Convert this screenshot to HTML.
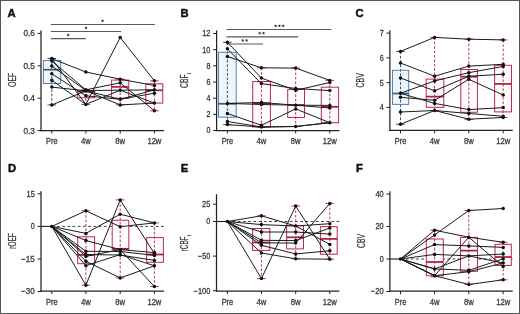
<!DOCTYPE html>
<html><head><meta charset="utf-8"><title>Figure</title>
<style>
html,body{margin:0;padding:0;background:#fff;}
svg{display:block;font-family:"Liberation Sans",sans-serif;will-change:transform;}
.wrap{width:520px;height:314px;overflow:hidden;}
</style></head>
<body>
<div class="wrap"><svg width="520" height="314" viewBox="0 0 520 314">
<rect x="0" y="0" width="520" height="314" fill="#fff"/>
<text x="7.6" y="16.6" font-size="11.3" font-weight="bold" fill="#111" stroke="#111" stroke-width="0.45">A</text>
<text transform="translate(15.6,87.0) rotate(-90)" font-size="10.2" text-anchor="start" fill="#3a3a3a" stroke="#3a3a3a" stroke-width="0.25" textLength="14.4" lengthAdjust="spacingAndGlyphs">OEF</text>
<line x1="41" y1="30.6" x2="41" y2="131.2" stroke="#222" stroke-width="1.25" stroke-linecap="butt"/>
<line x1="40.4" y1="130.6" x2="163.9" y2="130.6" stroke="#222" stroke-width="1.25" stroke-linecap="butt"/>
<line x1="37.5" y1="33.4" x2="41" y2="33.4" stroke="#222" stroke-width="1" stroke-linecap="butt"/>
<text x="34.8" y="36.3" font-size="8.2" text-anchor="end" fill="#3a3a3a" font-weight="normal" stroke="#3a3a3a" stroke-width="0.28" textLength="11.4" lengthAdjust="spacingAndGlyphs">0.6</text>
<line x1="37.5" y1="65.8" x2="41" y2="65.8" stroke="#222" stroke-width="1" stroke-linecap="butt"/>
<text x="34.8" y="68.7" font-size="8.2" text-anchor="end" fill="#3a3a3a" font-weight="normal" stroke="#3a3a3a" stroke-width="0.28" textLength="11.4" lengthAdjust="spacingAndGlyphs">0.5</text>
<line x1="37.5" y1="98.2" x2="41" y2="98.2" stroke="#222" stroke-width="1" stroke-linecap="butt"/>
<text x="34.8" y="101.10000000000001" font-size="8.2" text-anchor="end" fill="#3a3a3a" font-weight="normal" stroke="#3a3a3a" stroke-width="0.28" textLength="11.4" lengthAdjust="spacingAndGlyphs">0.4</text>
<line x1="37.5" y1="130.6" x2="41" y2="130.6" stroke="#222" stroke-width="1" stroke-linecap="butt"/>
<text x="34.8" y="133.5" font-size="8.2" text-anchor="end" fill="#3a3a3a" font-weight="normal" stroke="#3a3a3a" stroke-width="0.28" textLength="11.4" lengthAdjust="spacingAndGlyphs">0.3</text>
<line x1="51.8" y1="130.6" x2="51.8" y2="133.6" stroke="#222" stroke-width="1" stroke-linecap="butt"/>
<text x="51.8" y="144.1" font-size="8.2" text-anchor="middle" fill="#3a3a3a" font-weight="normal" stroke="#3a3a3a" stroke-width="0.28" textLength="11.5" lengthAdjust="spacingAndGlyphs">Pre</text>
<line x1="85.9" y1="130.6" x2="85.9" y2="133.6" stroke="#222" stroke-width="1" stroke-linecap="butt"/>
<text x="85.9" y="144.1" font-size="8.2" text-anchor="middle" fill="#3a3a3a" font-weight="normal" stroke="#3a3a3a" stroke-width="0.28" textLength="9.8" lengthAdjust="spacingAndGlyphs">4w</text>
<line x1="120.2" y1="130.6" x2="120.2" y2="133.6" stroke="#222" stroke-width="1" stroke-linecap="butt"/>
<text x="120.2" y="144.1" font-size="8.2" text-anchor="middle" fill="#3a3a3a" font-weight="normal" stroke="#3a3a3a" stroke-width="0.28" textLength="9.8" lengthAdjust="spacingAndGlyphs">8w</text>
<line x1="154.4" y1="130.6" x2="154.4" y2="133.6" stroke="#222" stroke-width="1" stroke-linecap="butt"/>
<text x="154.4" y="144.1" font-size="8.2" text-anchor="middle" fill="#3a3a3a" font-weight="normal" stroke="#3a3a3a" stroke-width="0.28" textLength="14.0" lengthAdjust="spacingAndGlyphs">12w</text>
<line x1="50.8" y1="24.5" x2="154.9" y2="24.5" stroke="#5a5a5a" stroke-width="1.2" stroke-linecap="butt"/>
<polygon points="102.60,19.20 103.10,20.21 104.22,20.37 103.41,21.16 103.60,22.28 102.60,21.75 101.60,22.28 101.79,21.16 100.98,20.37 102.10,20.21" fill="#333"/>
<line x1="50.8" y1="31.5" x2="121.0" y2="31.5" stroke="#5a5a5a" stroke-width="1.2" stroke-linecap="butt"/>
<polygon points="86.00,26.20 86.50,27.21 87.62,27.37 86.81,28.16 87.00,29.28 86.00,28.75 85.00,29.28 85.19,28.16 84.38,27.37 85.50,27.21" fill="#333"/>
<line x1="50.8" y1="38.6" x2="85.7" y2="38.6" stroke="#5a5a5a" stroke-width="1.2" stroke-linecap="butt"/>
<polygon points="68.20,33.30 68.70,34.31 69.82,34.47 69.01,35.26 69.20,36.38 68.20,35.85 67.20,36.38 67.39,35.26 66.58,34.47 67.70,34.31" fill="#333"/>
<rect x="43.4" y="60.5" width="17.300000000000004" height="23.0" fill="#eef5fb"/>
<line x1="51.8" y1="58.5" x2="51.8" y2="104.9" stroke="#3b5169" stroke-width="1" stroke-dasharray="2.6 1.8" stroke-linecap="butt"/>
<line x1="47.5" y1="58.5" x2="56.099999999999994" y2="58.5" stroke="#3b5169" stroke-width="1" stroke-linecap="butt"/>
<line x1="47.5" y1="104.9" x2="56.099999999999994" y2="104.9" stroke="#3b5169" stroke-width="1" stroke-linecap="butt"/>
<rect x="43.4" y="60.5" width="17.300000000000004" height="23.0" fill="none" stroke="#5283b0" stroke-width="1"/>
<line x1="43.4" y1="69.7" x2="60.7" y2="69.7" stroke="#2f5f8c" stroke-width="1.7" stroke-linecap="butt"/>
<rect x="77.7" y="90.9" width="17.0" height="6.8999999999999915" fill="#fffafb"/>
<line x1="85.9" y1="89.8" x2="85.9" y2="104.5" stroke="#b83a56" stroke-width="1" stroke-dasharray="2.6 1.8" stroke-linecap="butt"/>
<line x1="81.60000000000001" y1="89.8" x2="90.2" y2="89.8" stroke="#b83a56" stroke-width="1" stroke-linecap="butt"/>
<line x1="81.60000000000001" y1="104.5" x2="90.2" y2="104.5" stroke="#b83a56" stroke-width="1" stroke-linecap="butt"/>
<rect x="77.7" y="90.9" width="17.0" height="6.8999999999999915" fill="none" stroke="#b82c4c" stroke-width="1"/>
<line x1="77.7" y1="91.6" x2="94.7" y2="91.6" stroke="#a81d3d" stroke-width="1.7" stroke-linecap="butt"/>
<rect x="111.6" y="80.1" width="17.200000000000017" height="18.10000000000001" fill="#fffafb"/>
<line x1="120.2" y1="79.2" x2="120.2" y2="104.9" stroke="#b83a56" stroke-width="1" stroke-dasharray="2.6 1.8" stroke-linecap="butt"/>
<line x1="115.9" y1="79.2" x2="124.5" y2="79.2" stroke="#b83a56" stroke-width="1" stroke-linecap="butt"/>
<line x1="115.9" y1="104.9" x2="124.5" y2="104.9" stroke="#b83a56" stroke-width="1" stroke-linecap="butt"/>
<rect x="111.6" y="80.1" width="17.200000000000017" height="18.10000000000001" fill="none" stroke="#b82c4c" stroke-width="1"/>
<line x1="111.6" y1="86.9" x2="128.8" y2="86.9" stroke="#a81d3d" stroke-width="1.7" stroke-linecap="butt"/>
<rect x="145.8" y="83.8" width="17.0" height="19.299999999999997" fill="#fffafb"/>
<line x1="154.4" y1="80.8" x2="154.4" y2="110.8" stroke="#b83a56" stroke-width="1" stroke-dasharray="2.6 1.8" stroke-linecap="butt"/>
<line x1="150.1" y1="80.8" x2="158.70000000000002" y2="80.8" stroke="#b83a56" stroke-width="1" stroke-linecap="butt"/>
<line x1="150.1" y1="110.8" x2="158.70000000000002" y2="110.8" stroke="#b83a56" stroke-width="1" stroke-linecap="butt"/>
<rect x="145.8" y="83.8" width="17.0" height="19.299999999999997" fill="none" stroke="#b82c4c" stroke-width="1"/>
<line x1="145.8" y1="90.3" x2="162.8" y2="90.3" stroke="#a81d3d" stroke-width="1.7" stroke-linecap="butt"/>
<polyline points="51.8,58.6 85.9,72.0 120.2,79.2 154.4,85.5" fill="none" stroke="#1c1c1c" stroke-width="1.0" stroke-linejoin="round"/>
<polyline points="51.8,58.9 85.9,104.4 120.2,37.5 154.4,80.8" fill="none" stroke="#1c1c1c" stroke-width="1.0" stroke-linejoin="round"/>
<polyline points="51.8,61.1 85.9,89.8 120.2,82.8 154.4,110.8" fill="none" stroke="#1c1c1c" stroke-width="1.0" stroke-linejoin="round"/>
<polyline points="51.8,66.0 85.9,90.5 120.2,90.2 154.4,89.8" fill="none" stroke="#1c1c1c" stroke-width="1.0" stroke-linejoin="round"/>
<polyline points="51.8,73.8 85.9,95.8 120.2,99.3 154.4,93.2" fill="none" stroke="#1c1c1c" stroke-width="1.0" stroke-linejoin="round"/>
<polyline points="51.8,80.3 85.9,104.4 120.2,90.2 154.4,103.1" fill="none" stroke="#1c1c1c" stroke-width="1.0" stroke-linejoin="round"/>
<polyline points="51.8,87.1 85.9,90.8 120.2,104.9 154.4,103.1" fill="none" stroke="#1c1c1c" stroke-width="1.0" stroke-linejoin="round"/>
<polyline points="51.8,105.0 85.9,90.8 120.2,99.3 154.4,89.8" fill="none" stroke="#1c1c1c" stroke-width="1.0" stroke-linejoin="round"/>
<circle cx="51.8" cy="58.6" r="1.75" fill="#111"/>
<circle cx="85.9" cy="72.0" r="1.75" fill="#111"/>
<circle cx="120.2" cy="79.2" r="1.75" fill="#111"/>
<circle cx="154.4" cy="85.5" r="1.75" fill="#111"/>
<circle cx="51.8" cy="58.9" r="1.75" fill="#111"/>
<circle cx="85.9" cy="104.4" r="1.75" fill="#111"/>
<circle cx="120.2" cy="37.5" r="1.75" fill="#111"/>
<circle cx="154.4" cy="80.8" r="1.75" fill="#111"/>
<circle cx="51.8" cy="61.1" r="1.75" fill="#111"/>
<circle cx="85.9" cy="89.8" r="1.75" fill="#111"/>
<circle cx="120.2" cy="82.8" r="1.75" fill="#111"/>
<circle cx="154.4" cy="110.8" r="1.75" fill="#111"/>
<circle cx="51.8" cy="66.0" r="1.75" fill="#111"/>
<circle cx="85.9" cy="90.5" r="1.75" fill="#111"/>
<circle cx="120.2" cy="90.2" r="1.75" fill="#111"/>
<circle cx="154.4" cy="89.8" r="1.75" fill="#111"/>
<circle cx="51.8" cy="73.8" r="1.75" fill="#111"/>
<circle cx="85.9" cy="95.8" r="1.75" fill="#111"/>
<circle cx="120.2" cy="99.3" r="1.75" fill="#111"/>
<circle cx="154.4" cy="93.2" r="1.75" fill="#111"/>
<circle cx="51.8" cy="80.3" r="1.75" fill="#111"/>
<circle cx="154.4" cy="103.1" r="1.75" fill="#111"/>
<circle cx="51.8" cy="87.1" r="1.75" fill="#111"/>
<circle cx="85.9" cy="90.8" r="1.75" fill="#111"/>
<circle cx="120.2" cy="104.9" r="1.75" fill="#111"/>
<circle cx="51.8" cy="105.0" r="1.75" fill="#111"/>
<text x="180.6" y="16.6" font-size="11.3" font-weight="bold" fill="#111" stroke="#111" stroke-width="0.45">B</text>
<text transform="translate(188.2,87.9) rotate(-90)" font-size="10.2" text-anchor="start" fill="#3a3a3a" stroke="#3a3a3a" stroke-width="0.25" textLength="13.4" lengthAdjust="spacingAndGlyphs">CBF</text>
<text transform="translate(191.2,74.1) rotate(-90)" font-size="5" text-anchor="start" fill="#3a3a3a" stroke="#3a3a3a" stroke-width="0.2">i</text>
<line x1="216.6" y1="30.4" x2="216.6" y2="131.1" stroke="#222" stroke-width="1.25" stroke-linecap="butt"/>
<line x1="216.0" y1="130.5" x2="339.3" y2="130.5" stroke="#222" stroke-width="1.25" stroke-linecap="butt"/>
<line x1="213.1" y1="33.5" x2="216.6" y2="33.5" stroke="#222" stroke-width="1" stroke-linecap="butt"/>
<text x="210.4" y="36.4" font-size="8.2" text-anchor="end" fill="#3a3a3a" font-weight="normal" stroke="#3a3a3a" stroke-width="0.28" textLength="8.2" lengthAdjust="spacingAndGlyphs">12</text>
<line x1="213.1" y1="49.67" x2="216.6" y2="49.67" stroke="#222" stroke-width="1" stroke-linecap="butt"/>
<text x="210.4" y="52.57" font-size="8.2" text-anchor="end" fill="#3a3a3a" font-weight="normal" stroke="#3a3a3a" stroke-width="0.28" textLength="8.2" lengthAdjust="spacingAndGlyphs">10</text>
<line x1="213.1" y1="65.84" x2="216.6" y2="65.84" stroke="#222" stroke-width="1" stroke-linecap="butt"/>
<text x="210.4" y="68.74000000000001" font-size="8.2" text-anchor="end" fill="#3a3a3a" font-weight="normal" stroke="#3a3a3a" stroke-width="0.28" textLength="4" lengthAdjust="spacingAndGlyphs">8</text>
<line x1="213.1" y1="82.0" x2="216.6" y2="82.0" stroke="#222" stroke-width="1" stroke-linecap="butt"/>
<text x="210.4" y="84.9" font-size="8.2" text-anchor="end" fill="#3a3a3a" font-weight="normal" stroke="#3a3a3a" stroke-width="0.28" textLength="4" lengthAdjust="spacingAndGlyphs">6</text>
<line x1="213.1" y1="98.17" x2="216.6" y2="98.17" stroke="#222" stroke-width="1" stroke-linecap="butt"/>
<text x="210.4" y="101.07000000000001" font-size="8.2" text-anchor="end" fill="#3a3a3a" font-weight="normal" stroke="#3a3a3a" stroke-width="0.28" textLength="4" lengthAdjust="spacingAndGlyphs">4</text>
<line x1="213.1" y1="114.33" x2="216.6" y2="114.33" stroke="#222" stroke-width="1" stroke-linecap="butt"/>
<text x="210.4" y="117.23" font-size="8.2" text-anchor="end" fill="#3a3a3a" font-weight="normal" stroke="#3a3a3a" stroke-width="0.28" textLength="4" lengthAdjust="spacingAndGlyphs">2</text>
<line x1="213.1" y1="130.5" x2="216.6" y2="130.5" stroke="#222" stroke-width="1" stroke-linecap="butt"/>
<text x="210.4" y="133.4" font-size="8.2" text-anchor="end" fill="#3a3a3a" font-weight="normal" stroke="#3a3a3a" stroke-width="0.28" textLength="4" lengthAdjust="spacingAndGlyphs">0</text>
<line x1="227.4" y1="130.5" x2="227.4" y2="133.5" stroke="#222" stroke-width="1" stroke-linecap="butt"/>
<text x="227.4" y="144.0" font-size="8.2" text-anchor="middle" fill="#3a3a3a" font-weight="normal" stroke="#3a3a3a" stroke-width="0.28" textLength="11.5" lengthAdjust="spacingAndGlyphs">Pre</text>
<line x1="261.4" y1="130.5" x2="261.4" y2="133.5" stroke="#222" stroke-width="1" stroke-linecap="butt"/>
<text x="261.4" y="144.0" font-size="8.2" text-anchor="middle" fill="#3a3a3a" font-weight="normal" stroke="#3a3a3a" stroke-width="0.28" textLength="9.8" lengthAdjust="spacingAndGlyphs">4w</text>
<line x1="295.7" y1="130.5" x2="295.7" y2="133.5" stroke="#222" stroke-width="1" stroke-linecap="butt"/>
<text x="295.7" y="144.0" font-size="8.2" text-anchor="middle" fill="#3a3a3a" font-weight="normal" stroke="#3a3a3a" stroke-width="0.28" textLength="9.8" lengthAdjust="spacingAndGlyphs">8w</text>
<line x1="329.8" y1="130.5" x2="329.8" y2="133.5" stroke="#222" stroke-width="1" stroke-linecap="butt"/>
<text x="329.8" y="144.0" font-size="8.2" text-anchor="middle" fill="#3a3a3a" font-weight="normal" stroke="#3a3a3a" stroke-width="0.28" textLength="14.0" lengthAdjust="spacingAndGlyphs">12w</text>
<line x1="226.4" y1="29.5" x2="331.3" y2="29.5" stroke="#5a5a5a" stroke-width="1.2" stroke-linecap="butt"/>
<polygon points="275.60,24.20 276.10,25.21 277.22,25.37 276.41,26.16 276.60,27.28 275.60,26.75 274.60,27.28 274.79,26.16 273.98,25.37 275.10,25.21" fill="#333"/>
<polygon points="279.40,24.20 279.90,25.21 281.02,25.37 280.21,26.16 280.40,27.28 279.40,26.75 278.40,27.28 278.59,26.16 277.78,25.37 278.90,25.21" fill="#333"/>
<polygon points="283.20,24.20 283.70,25.21 284.82,25.37 284.01,26.16 284.20,27.28 283.20,26.75 282.20,27.28 282.39,26.16 281.58,25.37 282.70,25.21" fill="#333"/>
<line x1="226.4" y1="36.8" x2="298.3" y2="36.8" stroke="#5a5a5a" stroke-width="1.2" stroke-linecap="butt"/>
<polygon points="259.70,31.50 260.20,32.51 261.32,32.67 260.51,33.46 260.70,34.58 259.70,34.05 258.70,34.58 258.89,33.46 258.08,32.67 259.20,32.51" fill="#333"/>
<polygon points="263.50,31.50 264.00,32.51 265.12,32.67 264.31,33.46 264.50,34.58 263.50,34.05 262.50,34.58 262.69,33.46 261.88,32.67 263.00,32.51" fill="#333"/>
<line x1="226.4" y1="44.0" x2="263.1" y2="44.0" stroke="#5a5a5a" stroke-width="1.2" stroke-linecap="butt"/>
<polygon points="242.80,38.70 243.30,39.71 244.42,39.87 243.61,40.66 243.80,41.78 242.80,41.25 241.80,41.78 241.99,40.66 241.18,39.87 242.30,39.71" fill="#333"/>
<polygon points="246.60,38.70 247.10,39.71 248.22,39.87 247.41,40.66 247.60,41.78 246.60,41.25 245.60,41.78 245.79,40.66 244.98,39.87 246.10,39.71" fill="#333"/>
<rect x="218.5" y="52.3" width="17.69999999999999" height="64.9" fill="#eef5fb"/>
<line x1="227.4" y1="42.3" x2="227.4" y2="124.6" stroke="#3b5169" stroke-width="1" stroke-dasharray="2.6 1.8" stroke-linecap="butt"/>
<line x1="223.1" y1="42.3" x2="231.70000000000002" y2="42.3" stroke="#3b5169" stroke-width="1" stroke-linecap="butt"/>
<line x1="223.1" y1="124.6" x2="231.70000000000002" y2="124.6" stroke="#3b5169" stroke-width="1" stroke-linecap="butt"/>
<rect x="218.5" y="52.3" width="17.69999999999999" height="64.9" fill="none" stroke="#5283b0" stroke-width="1"/>
<line x1="218.5" y1="103.8" x2="236.2" y2="103.8" stroke="#2f5f8c" stroke-width="1.7" stroke-linecap="butt"/>
<rect x="252.7" y="81.5" width="17.69999999999999" height="45.5" fill="#fffafb"/>
<line x1="261.4" y1="67.8" x2="261.4" y2="127.4" stroke="#b83a56" stroke-width="1" stroke-dasharray="2.6 1.8" stroke-linecap="butt"/>
<line x1="257.09999999999997" y1="67.8" x2="265.7" y2="67.8" stroke="#b83a56" stroke-width="1" stroke-linecap="butt"/>
<line x1="257.09999999999997" y1="127.4" x2="265.7" y2="127.4" stroke="#b83a56" stroke-width="1" stroke-linecap="butt"/>
<rect x="252.7" y="81.5" width="17.69999999999999" height="45.5" fill="none" stroke="#b82c4c" stroke-width="1"/>
<line x1="252.7" y1="103.3" x2="270.4" y2="103.3" stroke="#a81d3d" stroke-width="1.7" stroke-linecap="butt"/>
<rect x="287.7" y="89.4" width="16.80000000000001" height="28.099999999999994" fill="#fffafb"/>
<line x1="295.7" y1="68.1" x2="295.7" y2="126.5" stroke="#b83a56" stroke-width="1" stroke-dasharray="2.6 1.8" stroke-linecap="butt"/>
<line x1="291.4" y1="68.1" x2="300.0" y2="68.1" stroke="#b83a56" stroke-width="1" stroke-linecap="butt"/>
<line x1="291.4" y1="126.5" x2="300.0" y2="126.5" stroke="#b83a56" stroke-width="1" stroke-linecap="butt"/>
<rect x="287.7" y="89.4" width="16.80000000000001" height="28.099999999999994" fill="none" stroke="#b82c4c" stroke-width="1"/>
<line x1="287.7" y1="105.0" x2="304.5" y2="105.0" stroke="#a81d3d" stroke-width="1.7" stroke-linecap="butt"/>
<rect x="321.3" y="87.2" width="17.30000000000001" height="35.5" fill="#fffafb"/>
<line x1="329.8" y1="80.4" x2="329.8" y2="122.7" stroke="#b83a56" stroke-width="1" stroke-dasharray="2.6 1.8" stroke-linecap="butt"/>
<line x1="325.5" y1="80.4" x2="334.1" y2="80.4" stroke="#b83a56" stroke-width="1" stroke-linecap="butt"/>
<rect x="321.3" y="87.2" width="17.30000000000001" height="35.5" fill="none" stroke="#b82c4c" stroke-width="1"/>
<line x1="321.3" y1="106.8" x2="338.6" y2="106.8" stroke="#a81d3d" stroke-width="1.7" stroke-linecap="butt"/>
<polyline points="227.4,42.3 261.4,78.1 295.7,90.3 329.8,82.5" fill="none" stroke="#1c1c1c" stroke-width="1.0" stroke-linejoin="round"/>
<polyline points="227.4,48.8 261.4,83.6 295.7,88.5 329.8,90.6" fill="none" stroke="#1c1c1c" stroke-width="1.0" stroke-linejoin="round"/>
<polyline points="227.4,56.5 261.4,67.8 295.7,68.1 329.8,80.4" fill="none" stroke="#1c1c1c" stroke-width="1.0" stroke-linejoin="round"/>
<polyline points="227.4,103.4 261.4,102.5 295.7,105.2 329.8,105.4" fill="none" stroke="#1c1c1c" stroke-width="1.0" stroke-linejoin="round"/>
<polyline points="227.4,103.4 261.4,104.5 295.7,105.2 329.8,108.0" fill="none" stroke="#1c1c1c" stroke-width="1.0" stroke-linejoin="round"/>
<polyline points="227.4,113.5 261.4,125.3 295.7,108.9 329.8,122.7" fill="none" stroke="#1c1c1c" stroke-width="1.0" stroke-linejoin="round"/>
<polyline points="227.4,121.5 261.4,127.0 295.7,126.5 329.8,122.7" fill="none" stroke="#1c1c1c" stroke-width="1.0" stroke-linejoin="round"/>
<polyline points="227.4,124.6 261.4,127.0 295.7,126.5 329.8,122.7" fill="none" stroke="#1c1c1c" stroke-width="1.0" stroke-linejoin="round"/>
<circle cx="227.4" cy="42.3" r="1.75" fill="#111"/>
<circle cx="261.4" cy="78.1" r="1.75" fill="#111"/>
<circle cx="295.7" cy="90.3" r="1.75" fill="#111"/>
<circle cx="329.8" cy="82.5" r="1.75" fill="#111"/>
<circle cx="227.4" cy="48.8" r="1.75" fill="#111"/>
<circle cx="261.4" cy="83.6" r="1.75" fill="#111"/>
<circle cx="295.7" cy="88.5" r="1.75" fill="#111"/>
<circle cx="329.8" cy="90.6" r="1.75" fill="#111"/>
<circle cx="227.4" cy="56.5" r="1.75" fill="#111"/>
<circle cx="261.4" cy="67.8" r="1.75" fill="#111"/>
<circle cx="295.7" cy="68.1" r="1.75" fill="#111"/>
<circle cx="329.8" cy="80.4" r="1.75" fill="#111"/>
<circle cx="227.4" cy="103.4" r="1.75" fill="#111"/>
<circle cx="261.4" cy="102.5" r="1.75" fill="#111"/>
<circle cx="295.7" cy="105.2" r="1.75" fill="#111"/>
<circle cx="329.8" cy="105.4" r="1.75" fill="#111"/>
<circle cx="261.4" cy="104.5" r="1.75" fill="#111"/>
<circle cx="329.8" cy="108.0" r="1.75" fill="#111"/>
<circle cx="227.4" cy="113.5" r="1.75" fill="#111"/>
<circle cx="261.4" cy="125.3" r="1.75" fill="#111"/>
<circle cx="295.7" cy="108.9" r="1.75" fill="#111"/>
<circle cx="329.8" cy="122.7" r="1.75" fill="#111"/>
<circle cx="227.4" cy="121.5" r="1.75" fill="#111"/>
<circle cx="261.4" cy="127.0" r="1.75" fill="#111"/>
<circle cx="295.7" cy="126.5" r="1.75" fill="#111"/>
<circle cx="227.4" cy="124.6" r="1.75" fill="#111"/>
<text x="355.4" y="16.6" font-size="11.3" font-weight="bold" fill="#111" stroke="#111" stroke-width="0.45">C</text>
<text transform="translate(364.4,87.6) rotate(-90)" font-size="10.2" text-anchor="start" fill="#3a3a3a" stroke="#3a3a3a" stroke-width="0.25" textLength="14.4" lengthAdjust="spacingAndGlyphs">CBV</text>
<line x1="389.9" y1="30.3" x2="389.9" y2="131.0" stroke="#222" stroke-width="1.25" stroke-linecap="butt"/>
<line x1="389.29999999999995" y1="130.4" x2="512.7" y2="130.4" stroke="#222" stroke-width="1.25" stroke-linecap="butt"/>
<line x1="386.4" y1="33.1" x2="389.9" y2="33.1" stroke="#222" stroke-width="1" stroke-linecap="butt"/>
<text x="383.7" y="36.0" font-size="8.2" text-anchor="end" fill="#3a3a3a" font-weight="normal" stroke="#3a3a3a" stroke-width="0.28" textLength="4" lengthAdjust="spacingAndGlyphs">7</text>
<line x1="386.4" y1="57.87" x2="389.9" y2="57.87" stroke="#222" stroke-width="1" stroke-linecap="butt"/>
<text x="383.7" y="60.769999999999996" font-size="8.2" text-anchor="end" fill="#3a3a3a" font-weight="normal" stroke="#3a3a3a" stroke-width="0.28" textLength="4" lengthAdjust="spacingAndGlyphs">6</text>
<line x1="386.4" y1="82.64" x2="389.9" y2="82.64" stroke="#222" stroke-width="1" stroke-linecap="butt"/>
<text x="383.7" y="85.54" font-size="8.2" text-anchor="end" fill="#3a3a3a" font-weight="normal" stroke="#3a3a3a" stroke-width="0.28" textLength="4" lengthAdjust="spacingAndGlyphs">5</text>
<line x1="386.4" y1="107.41" x2="389.9" y2="107.41" stroke="#222" stroke-width="1" stroke-linecap="butt"/>
<text x="383.7" y="110.31" font-size="8.2" text-anchor="end" fill="#3a3a3a" font-weight="normal" stroke="#3a3a3a" stroke-width="0.28" textLength="4" lengthAdjust="spacingAndGlyphs">4</text>
<line x1="400.5" y1="130.4" x2="400.5" y2="133.4" stroke="#222" stroke-width="1" stroke-linecap="butt"/>
<text x="400.5" y="143.9" font-size="8.2" text-anchor="middle" fill="#3a3a3a" font-weight="normal" stroke="#3a3a3a" stroke-width="0.28" textLength="11.5" lengthAdjust="spacingAndGlyphs">Pre</text>
<line x1="434.6" y1="130.4" x2="434.6" y2="133.4" stroke="#222" stroke-width="1" stroke-linecap="butt"/>
<text x="434.6" y="143.9" font-size="8.2" text-anchor="middle" fill="#3a3a3a" font-weight="normal" stroke="#3a3a3a" stroke-width="0.28" textLength="9.8" lengthAdjust="spacingAndGlyphs">4w</text>
<line x1="468.8" y1="130.4" x2="468.8" y2="133.4" stroke="#222" stroke-width="1" stroke-linecap="butt"/>
<text x="468.8" y="143.9" font-size="8.2" text-anchor="middle" fill="#3a3a3a" font-weight="normal" stroke="#3a3a3a" stroke-width="0.28" textLength="9.8" lengthAdjust="spacingAndGlyphs">8w</text>
<line x1="503.2" y1="130.4" x2="503.2" y2="133.4" stroke="#222" stroke-width="1" stroke-linecap="butt"/>
<text x="503.2" y="143.9" font-size="8.2" text-anchor="middle" fill="#3a3a3a" font-weight="normal" stroke="#3a3a3a" stroke-width="0.28" textLength="14.0" lengthAdjust="spacingAndGlyphs">12w</text>
<rect x="392.5" y="70.3" width="16.19999999999999" height="34.10000000000001" fill="#eef5fb"/>
<line x1="400.5" y1="51.4" x2="400.5" y2="124.3" stroke="#3b5169" stroke-width="1" stroke-dasharray="2.6 1.8" stroke-linecap="butt"/>
<line x1="396.2" y1="51.4" x2="404.8" y2="51.4" stroke="#3b5169" stroke-width="1" stroke-linecap="butt"/>
<line x1="396.2" y1="124.3" x2="404.8" y2="124.3" stroke="#3b5169" stroke-width="1" stroke-linecap="butt"/>
<rect x="392.5" y="70.3" width="16.19999999999999" height="34.10000000000001" fill="none" stroke="#5283b0" stroke-width="1"/>
<line x1="392.5" y1="93.5" x2="408.7" y2="93.5" stroke="#2f5f8c" stroke-width="1.7" stroke-linecap="butt"/>
<rect x="426.2" y="79.1" width="17.600000000000023" height="28.200000000000003" fill="#fffafb"/>
<line x1="434.6" y1="37.4" x2="434.6" y2="110.7" stroke="#b83a56" stroke-width="1" stroke-dasharray="2.6 1.8" stroke-linecap="butt"/>
<line x1="430.3" y1="37.4" x2="438.90000000000003" y2="37.4" stroke="#b83a56" stroke-width="1" stroke-linecap="butt"/>
<line x1="430.3" y1="110.7" x2="438.90000000000003" y2="110.7" stroke="#b83a56" stroke-width="1" stroke-linecap="butt"/>
<rect x="426.2" y="79.1" width="17.600000000000023" height="28.200000000000003" fill="none" stroke="#b82c4c" stroke-width="1"/>
<line x1="426.2" y1="96.6" x2="443.8" y2="96.6" stroke="#a81d3d" stroke-width="1.7" stroke-linecap="butt"/>
<rect x="460.8" y="69.5" width="16.599999999999966" height="42.8" fill="#fffafb"/>
<line x1="468.8" y1="39.2" x2="468.8" y2="119.4" stroke="#b83a56" stroke-width="1" stroke-dasharray="2.6 1.8" stroke-linecap="butt"/>
<line x1="464.5" y1="39.2" x2="473.1" y2="39.2" stroke="#b83a56" stroke-width="1" stroke-linecap="butt"/>
<line x1="464.5" y1="119.4" x2="473.1" y2="119.4" stroke="#b83a56" stroke-width="1" stroke-linecap="butt"/>
<rect x="460.8" y="69.5" width="16.599999999999966" height="42.8" fill="none" stroke="#b82c4c" stroke-width="1"/>
<line x1="460.8" y1="76.7" x2="477.4" y2="76.7" stroke="#a81d3d" stroke-width="1.7" stroke-linecap="butt"/>
<rect x="494.6" y="65.3" width="16.899999999999977" height="46.60000000000001" fill="#fffafb"/>
<line x1="503.2" y1="39.9" x2="503.2" y2="117.5" stroke="#b83a56" stroke-width="1" stroke-dasharray="2.6 1.8" stroke-linecap="butt"/>
<line x1="498.9" y1="39.9" x2="507.5" y2="39.9" stroke="#b83a56" stroke-width="1" stroke-linecap="butt"/>
<line x1="498.9" y1="117.5" x2="507.5" y2="117.5" stroke="#b83a56" stroke-width="1" stroke-linecap="butt"/>
<rect x="494.6" y="65.3" width="16.899999999999977" height="46.60000000000001" fill="none" stroke="#b82c4c" stroke-width="1"/>
<line x1="494.6" y1="83.9" x2="511.5" y2="83.9" stroke="#a81d3d" stroke-width="1.7" stroke-linecap="butt"/>
<polyline points="400.5,51.4 434.6,37.4 468.8,39.2 503.2,39.9" fill="none" stroke="#1c1c1c" stroke-width="1.0" stroke-linejoin="round"/>
<polyline points="400.5,63.0 434.6,76.2 468.8,66.1 503.2,64.3" fill="none" stroke="#1c1c1c" stroke-width="1.0" stroke-linejoin="round"/>
<polyline points="400.5,78.0 434.6,90.8 468.8,76.3 503.2,74.2" fill="none" stroke="#1c1c1c" stroke-width="1.0" stroke-linejoin="round"/>
<polyline points="400.5,93.3 434.6,80.9 468.8,72.7 503.2,66.4" fill="none" stroke="#1c1c1c" stroke-width="1.0" stroke-linejoin="round"/>
<polyline points="400.5,97.3 434.6,100.3 468.8,79.3 503.2,95.0" fill="none" stroke="#1c1c1c" stroke-width="1.0" stroke-linejoin="round"/>
<polyline points="400.5,93.3 434.6,103.4 468.8,109.6 503.2,107.6" fill="none" stroke="#1c1c1c" stroke-width="1.0" stroke-linejoin="round"/>
<polyline points="400.5,112.0 434.6,110.5 468.8,119.2 503.2,117.5" fill="none" stroke="#1c1c1c" stroke-width="1.0" stroke-linejoin="round"/>
<polyline points="400.5,124.3 434.6,110.5 468.8,113.5 503.2,116.3" fill="none" stroke="#1c1c1c" stroke-width="1.0" stroke-linejoin="round"/>
<circle cx="400.5" cy="51.4" r="1.75" fill="#111"/>
<circle cx="434.6" cy="37.4" r="1.75" fill="#111"/>
<circle cx="468.8" cy="39.2" r="1.75" fill="#111"/>
<circle cx="503.2" cy="39.9" r="1.75" fill="#111"/>
<circle cx="400.5" cy="63.0" r="1.75" fill="#111"/>
<circle cx="434.6" cy="76.2" r="1.75" fill="#111"/>
<circle cx="468.8" cy="66.1" r="1.75" fill="#111"/>
<circle cx="503.2" cy="64.3" r="1.75" fill="#111"/>
<circle cx="400.5" cy="78.0" r="1.75" fill="#111"/>
<circle cx="434.6" cy="90.8" r="1.75" fill="#111"/>
<circle cx="468.8" cy="76.3" r="1.75" fill="#111"/>
<circle cx="503.2" cy="74.2" r="1.75" fill="#111"/>
<circle cx="400.5" cy="93.3" r="1.75" fill="#111"/>
<circle cx="434.6" cy="80.9" r="1.75" fill="#111"/>
<circle cx="468.8" cy="72.7" r="1.75" fill="#111"/>
<circle cx="503.2" cy="66.4" r="1.75" fill="#111"/>
<circle cx="400.5" cy="97.3" r="1.75" fill="#111"/>
<circle cx="434.6" cy="100.3" r="1.75" fill="#111"/>
<circle cx="468.8" cy="79.3" r="1.75" fill="#111"/>
<circle cx="503.2" cy="95.0" r="1.75" fill="#111"/>
<circle cx="434.6" cy="103.4" r="1.75" fill="#111"/>
<circle cx="468.8" cy="109.6" r="1.75" fill="#111"/>
<circle cx="503.2" cy="107.6" r="1.75" fill="#111"/>
<circle cx="400.5" cy="112.0" r="1.75" fill="#111"/>
<circle cx="434.6" cy="110.5" r="1.75" fill="#111"/>
<circle cx="468.8" cy="119.2" r="1.75" fill="#111"/>
<circle cx="503.2" cy="117.5" r="1.75" fill="#111"/>
<circle cx="400.5" cy="124.3" r="1.75" fill="#111"/>
<circle cx="468.8" cy="113.5" r="1.75" fill="#111"/>
<circle cx="503.2" cy="116.3" r="1.75" fill="#111"/>
<text x="7.9" y="171.9" font-size="11.3" font-weight="bold" fill="#111" stroke="#111" stroke-width="0.45">D</text>
<text transform="translate(16.1,248.7) rotate(-90)" font-size="10.2" text-anchor="start" fill="#3a3a3a" stroke="#3a3a3a" stroke-width="0.25" textLength="15.5" lengthAdjust="spacingAndGlyphs">rOEF</text>
<line x1="41" y1="191.3" x2="41" y2="291.6" stroke="#222" stroke-width="1.25" stroke-linecap="butt"/>
<line x1="40.4" y1="291.0" x2="163.9" y2="291.0" stroke="#222" stroke-width="1.25" stroke-linecap="butt"/>
<line x1="37.5" y1="193.81" x2="41" y2="193.81" stroke="#222" stroke-width="1" stroke-linecap="butt"/>
<text x="34.8" y="196.71" font-size="8.2" text-anchor="end" fill="#3a3a3a" font-weight="normal" stroke="#3a3a3a" stroke-width="0.28" textLength="8.2" lengthAdjust="spacingAndGlyphs">15</text>
<line x1="37.5" y1="226.4" x2="41" y2="226.4" stroke="#222" stroke-width="1" stroke-linecap="butt"/>
<text x="34.8" y="229.3" font-size="8.2" text-anchor="end" fill="#3a3a3a" font-weight="normal" stroke="#3a3a3a" stroke-width="0.28" textLength="4" lengthAdjust="spacingAndGlyphs">0</text>
<line x1="37.5" y1="259.0" x2="41" y2="259.0" stroke="#222" stroke-width="1" stroke-linecap="butt"/>
<text x="34.8" y="261.9" font-size="8.2" text-anchor="end" fill="#3a3a3a" font-weight="normal" stroke="#3a3a3a" stroke-width="0.28" textLength="13.6" lengthAdjust="spacingAndGlyphs">−15</text>
<line x1="37.5" y1="291.59" x2="41" y2="291.59" stroke="#222" stroke-width="1" stroke-linecap="butt"/>
<text x="34.8" y="294.48999999999995" font-size="8.2" text-anchor="end" fill="#3a3a3a" font-weight="normal" stroke="#3a3a3a" stroke-width="0.28" textLength="13.6" lengthAdjust="spacingAndGlyphs">−30</text>
<line x1="51.8" y1="291.0" x2="51.8" y2="294.0" stroke="#222" stroke-width="1" stroke-linecap="butt"/>
<text x="51.8" y="304.5" font-size="8.2" text-anchor="middle" fill="#3a3a3a" font-weight="normal" stroke="#3a3a3a" stroke-width="0.28" textLength="11.5" lengthAdjust="spacingAndGlyphs">Pre</text>
<line x1="85.9" y1="291.0" x2="85.9" y2="294.0" stroke="#222" stroke-width="1" stroke-linecap="butt"/>
<text x="85.9" y="304.5" font-size="8.2" text-anchor="middle" fill="#3a3a3a" font-weight="normal" stroke="#3a3a3a" stroke-width="0.28" textLength="9.8" lengthAdjust="spacingAndGlyphs">4w</text>
<line x1="120.2" y1="291.0" x2="120.2" y2="294.0" stroke="#222" stroke-width="1" stroke-linecap="butt"/>
<text x="120.2" y="304.5" font-size="8.2" text-anchor="middle" fill="#3a3a3a" font-weight="normal" stroke="#3a3a3a" stroke-width="0.28" textLength="9.8" lengthAdjust="spacingAndGlyphs">8w</text>
<line x1="154.4" y1="291.0" x2="154.4" y2="294.0" stroke="#222" stroke-width="1" stroke-linecap="butt"/>
<text x="154.4" y="304.5" font-size="8.2" text-anchor="middle" fill="#3a3a3a" font-weight="normal" stroke="#3a3a3a" stroke-width="0.28" textLength="14.0" lengthAdjust="spacingAndGlyphs">12w</text>
<line x1="51.8" y1="226.4" x2="163.9" y2="226.4" stroke="#444" stroke-width="1" stroke-dasharray="2.8 2.4" stroke-linecap="butt"/>
<line x1="41" y1="226.4" x2="51.8" y2="226.4" stroke="#1c1c1c" stroke-width="1.1" stroke-linecap="butt"/>
<rect x="77.7" y="236.8" width="16.89999999999999" height="26.899999999999977" fill="#fffafb"/>
<line x1="85.9" y1="210.8" x2="85.9" y2="285.2" stroke="#b83a56" stroke-width="1" stroke-dasharray="2.6 1.8" stroke-linecap="butt"/>
<line x1="81.60000000000001" y1="210.8" x2="90.2" y2="210.8" stroke="#b83a56" stroke-width="1" stroke-linecap="butt"/>
<line x1="81.60000000000001" y1="285.2" x2="90.2" y2="285.2" stroke="#b83a56" stroke-width="1" stroke-linecap="butt"/>
<rect x="77.7" y="236.8" width="16.89999999999999" height="26.899999999999977" fill="none" stroke="#b82c4c" stroke-width="1"/>
<line x1="77.7" y1="254.9" x2="94.6" y2="254.9" stroke="#a81d3d" stroke-width="1.7" stroke-linecap="butt"/>
<rect x="112.2" y="220.2" width="16.60000000000001" height="29.400000000000006" fill="#fffafb"/>
<line x1="120.2" y1="199.9" x2="120.2" y2="277.9" stroke="#b83a56" stroke-width="1" stroke-dasharray="2.6 1.8" stroke-linecap="butt"/>
<line x1="115.9" y1="199.9" x2="124.5" y2="199.9" stroke="#b83a56" stroke-width="1" stroke-linecap="butt"/>
<line x1="115.9" y1="277.9" x2="124.5" y2="277.9" stroke="#b83a56" stroke-width="1" stroke-linecap="butt"/>
<rect x="112.2" y="220.2" width="16.60000000000001" height="29.400000000000006" fill="none" stroke="#b82c4c" stroke-width="1"/>
<line x1="112.2" y1="248.8" x2="128.8" y2="248.8" stroke="#a81d3d" stroke-width="1.7" stroke-linecap="butt"/>
<rect x="146.6" y="237.6" width="16.80000000000001" height="24.700000000000017" fill="#fffafb"/>
<line x1="154.4" y1="222.9" x2="154.4" y2="286.6" stroke="#b83a56" stroke-width="1" stroke-dasharray="2.6 1.8" stroke-linecap="butt"/>
<line x1="150.1" y1="222.9" x2="158.70000000000002" y2="222.9" stroke="#b83a56" stroke-width="1" stroke-linecap="butt"/>
<line x1="150.1" y1="286.6" x2="158.70000000000002" y2="286.6" stroke="#b83a56" stroke-width="1" stroke-linecap="butt"/>
<rect x="146.6" y="237.6" width="16.80000000000001" height="24.700000000000017" fill="none" stroke="#b82c4c" stroke-width="1"/>
<line x1="146.6" y1="254.5" x2="163.4" y2="254.5" stroke="#a81d3d" stroke-width="1.7" stroke-linecap="butt"/>
<polyline points="51.8,226.4 85.9,210.8 120.2,226.7 154.4,222.9" fill="none" stroke="#1c1c1c" stroke-width="1.0" stroke-linejoin="round"/>
<polyline points="51.8,226.4 85.9,233.4 120.2,214.2 154.4,222.9" fill="none" stroke="#1c1c1c" stroke-width="1.0" stroke-linejoin="round"/>
<polyline points="51.8,226.4 85.9,285.2 120.2,199.9 154.4,253.5" fill="none" stroke="#1c1c1c" stroke-width="1.0" stroke-linejoin="round"/>
<polyline points="51.8,226.4 85.9,240.5 120.2,249.6 154.4,286.6" fill="none" stroke="#1c1c1c" stroke-width="1.0" stroke-linejoin="round"/>
<polyline points="51.8,226.4 85.9,251.3 120.2,251.5 154.4,255.4" fill="none" stroke="#1c1c1c" stroke-width="1.0" stroke-linejoin="round"/>
<polyline points="51.8,226.4 85.9,254.6 120.2,255.0 154.4,260.4" fill="none" stroke="#1c1c1c" stroke-width="1.0" stroke-linejoin="round"/>
<polyline points="51.8,226.4 85.9,256.4 120.2,249.6 154.4,252.6" fill="none" stroke="#1c1c1c" stroke-width="1.0" stroke-linejoin="round"/>
<polyline points="51.8,226.4 85.9,261.3 120.2,277.9 154.4,265.8" fill="none" stroke="#1c1c1c" stroke-width="1.0" stroke-linejoin="round"/>
<polyline points="51.8,226.4 85.9,265.7 120.2,254.6 154.4,265.8" fill="none" stroke="#1c1c1c" stroke-width="1.0" stroke-linejoin="round"/>
<circle cx="51.8" cy="226.4" r="1.75" fill="#111"/>
<circle cx="85.9" cy="210.8" r="1.75" fill="#111"/>
<circle cx="120.2" cy="226.7" r="1.75" fill="#111"/>
<circle cx="154.4" cy="222.9" r="1.75" fill="#111"/>
<circle cx="85.9" cy="233.4" r="1.75" fill="#111"/>
<circle cx="120.2" cy="214.2" r="1.75" fill="#111"/>
<circle cx="85.9" cy="285.2" r="1.75" fill="#111"/>
<circle cx="120.2" cy="199.9" r="1.75" fill="#111"/>
<circle cx="154.4" cy="253.5" r="1.75" fill="#111"/>
<circle cx="85.9" cy="240.5" r="1.75" fill="#111"/>
<circle cx="120.2" cy="249.6" r="1.75" fill="#111"/>
<circle cx="154.4" cy="286.6" r="1.75" fill="#111"/>
<circle cx="85.9" cy="251.3" r="1.75" fill="#111"/>
<circle cx="120.2" cy="251.5" r="1.75" fill="#111"/>
<circle cx="154.4" cy="255.4" r="1.75" fill="#111"/>
<circle cx="85.9" cy="254.6" r="1.75" fill="#111"/>
<circle cx="120.2" cy="255.0" r="1.75" fill="#111"/>
<circle cx="154.4" cy="260.4" r="1.75" fill="#111"/>
<circle cx="85.9" cy="256.4" r="1.75" fill="#111"/>
<circle cx="154.4" cy="252.6" r="1.75" fill="#111"/>
<circle cx="85.9" cy="261.3" r="1.75" fill="#111"/>
<circle cx="120.2" cy="277.9" r="1.75" fill="#111"/>
<circle cx="154.4" cy="265.8" r="1.75" fill="#111"/>
<circle cx="85.9" cy="265.7" r="1.75" fill="#111"/>
<circle cx="120.2" cy="254.6" r="1.75" fill="#111"/>
<text x="180.8" y="171.9" font-size="11.3" font-weight="bold" fill="#111" stroke="#111" stroke-width="0.45">E</text>
<text transform="translate(188.2,251.3) rotate(-90)" font-size="10.2" text-anchor="start" fill="#3a3a3a" stroke="#3a3a3a" stroke-width="0.25" textLength="14.8" lengthAdjust="spacingAndGlyphs">rCBF</text>
<text transform="translate(191.2,236.1) rotate(-90)" font-size="5" text-anchor="start" fill="#3a3a3a" stroke="#3a3a3a" stroke-width="0.2">i</text>
<line x1="216.5" y1="194.2" x2="216.5" y2="291.6" stroke="#222" stroke-width="1.25" stroke-linecap="butt"/>
<line x1="215.9" y1="291.0" x2="339.3" y2="291.0" stroke="#222" stroke-width="1.25" stroke-linecap="butt"/>
<line x1="213.0" y1="204.2" x2="216.5" y2="204.2" stroke="#222" stroke-width="1" stroke-linecap="butt"/>
<text x="210.3" y="207.1" font-size="8.2" text-anchor="end" fill="#3a3a3a" font-weight="normal" stroke="#3a3a3a" stroke-width="0.28" textLength="8.2" lengthAdjust="spacingAndGlyphs">25</text>
<line x1="213.0" y1="221.5" x2="216.5" y2="221.5" stroke="#222" stroke-width="1" stroke-linecap="butt"/>
<text x="210.3" y="224.4" font-size="8.2" text-anchor="end" fill="#3a3a3a" font-weight="normal" stroke="#3a3a3a" stroke-width="0.28" textLength="4" lengthAdjust="spacingAndGlyphs">0</text>
<line x1="213.0" y1="256.1" x2="216.5" y2="256.1" stroke="#222" stroke-width="1" stroke-linecap="butt"/>
<text x="210.3" y="259.0" font-size="8.2" text-anchor="end" fill="#3a3a3a" font-weight="normal" stroke="#3a3a3a" stroke-width="0.28" textLength="12.4" lengthAdjust="spacingAndGlyphs">−50</text>
<line x1="213.0" y1="290.7" x2="216.5" y2="290.7" stroke="#222" stroke-width="1" stroke-linecap="butt"/>
<text x="210.3" y="293.59999999999997" font-size="8.2" text-anchor="end" fill="#3a3a3a" font-weight="normal" stroke="#3a3a3a" stroke-width="0.28" textLength="16.6" lengthAdjust="spacingAndGlyphs">−100</text>
<line x1="227.4" y1="291.0" x2="227.4" y2="294.0" stroke="#222" stroke-width="1" stroke-linecap="butt"/>
<text x="227.4" y="304.5" font-size="8.2" text-anchor="middle" fill="#3a3a3a" font-weight="normal" stroke="#3a3a3a" stroke-width="0.28" textLength="11.5" lengthAdjust="spacingAndGlyphs">Pre</text>
<line x1="261.4" y1="291.0" x2="261.4" y2="294.0" stroke="#222" stroke-width="1" stroke-linecap="butt"/>
<text x="261.4" y="304.5" font-size="8.2" text-anchor="middle" fill="#3a3a3a" font-weight="normal" stroke="#3a3a3a" stroke-width="0.28" textLength="9.8" lengthAdjust="spacingAndGlyphs">4w</text>
<line x1="295.7" y1="291.0" x2="295.7" y2="294.0" stroke="#222" stroke-width="1" stroke-linecap="butt"/>
<text x="295.7" y="304.5" font-size="8.2" text-anchor="middle" fill="#3a3a3a" font-weight="normal" stroke="#3a3a3a" stroke-width="0.28" textLength="9.8" lengthAdjust="spacingAndGlyphs">8w</text>
<line x1="329.8" y1="291.0" x2="329.8" y2="294.0" stroke="#222" stroke-width="1" stroke-linecap="butt"/>
<text x="329.8" y="304.5" font-size="8.2" text-anchor="middle" fill="#3a3a3a" font-weight="normal" stroke="#3a3a3a" stroke-width="0.28" textLength="14.0" lengthAdjust="spacingAndGlyphs">12w</text>
<line x1="227.4" y1="221.5" x2="339.3" y2="221.5" stroke="#444" stroke-width="1" stroke-dasharray="2.8 2.4" stroke-linecap="butt"/>
<line x1="216.5" y1="221.5" x2="227.4" y2="221.5" stroke="#1c1c1c" stroke-width="1.1" stroke-linecap="butt"/>
<rect x="252.6" y="228.5" width="17.200000000000017" height="21.900000000000006" fill="#fffafb"/>
<line x1="261.4" y1="215.8" x2="261.4" y2="278.6" stroke="#b83a56" stroke-width="1" stroke-dasharray="2.6 1.8" stroke-linecap="butt"/>
<line x1="257.09999999999997" y1="215.8" x2="265.7" y2="215.8" stroke="#b83a56" stroke-width="1" stroke-linecap="butt"/>
<line x1="257.09999999999997" y1="278.6" x2="265.7" y2="278.6" stroke="#b83a56" stroke-width="1" stroke-linecap="butt"/>
<rect x="252.6" y="228.5" width="17.200000000000017" height="21.900000000000006" fill="none" stroke="#b82c4c" stroke-width="1"/>
<line x1="252.6" y1="242.5" x2="269.8" y2="242.5" stroke="#a81d3d" stroke-width="1.7" stroke-linecap="butt"/>
<rect x="286.6" y="225.7" width="16.899999999999977" height="23.200000000000017" fill="#fffafb"/>
<line x1="295.7" y1="206.0" x2="295.7" y2="258.8" stroke="#b83a56" stroke-width="1" stroke-dasharray="2.6 1.8" stroke-linecap="butt"/>
<line x1="291.4" y1="206.0" x2="300.0" y2="206.0" stroke="#b83a56" stroke-width="1" stroke-linecap="butt"/>
<line x1="291.4" y1="258.8" x2="300.0" y2="258.8" stroke="#b83a56" stroke-width="1" stroke-linecap="butt"/>
<rect x="286.6" y="225.7" width="16.899999999999977" height="23.200000000000017" fill="none" stroke="#b82c4c" stroke-width="1"/>
<line x1="286.6" y1="237.3" x2="303.5" y2="237.3" stroke="#a81d3d" stroke-width="1.7" stroke-linecap="butt"/>
<rect x="320.4" y="226.6" width="16.80000000000001" height="27.599999999999994" fill="#fffafb"/>
<line x1="329.8" y1="203.4" x2="329.8" y2="259.2" stroke="#b83a56" stroke-width="1" stroke-dasharray="2.6 1.8" stroke-linecap="butt"/>
<line x1="325.5" y1="203.4" x2="334.1" y2="203.4" stroke="#b83a56" stroke-width="1" stroke-linecap="butt"/>
<line x1="325.5" y1="259.2" x2="334.1" y2="259.2" stroke="#b83a56" stroke-width="1" stroke-linecap="butt"/>
<rect x="320.4" y="226.6" width="16.80000000000001" height="27.599999999999994" fill="none" stroke="#b82c4c" stroke-width="1"/>
<line x1="320.4" y1="238.9" x2="337.2" y2="238.9" stroke="#a81d3d" stroke-width="1.7" stroke-linecap="butt"/>
<polyline points="227.4,221.5 261.4,215.8 295.7,226.0 329.8,244.4" fill="none" stroke="#1c1c1c" stroke-width="1.0" stroke-linejoin="round"/>
<polyline points="227.4,221.5 261.4,224.6 295.7,226.0 329.8,223.7" fill="none" stroke="#1c1c1c" stroke-width="1.0" stroke-linejoin="round"/>
<polyline points="227.4,221.5 261.4,278.6 295.7,206.0 329.8,259.2" fill="none" stroke="#1c1c1c" stroke-width="1.0" stroke-linejoin="round"/>
<polyline points="227.4,221.5 261.4,232.0 295.7,232.0 329.8,234.1" fill="none" stroke="#1c1c1c" stroke-width="1.0" stroke-linejoin="round"/>
<polyline points="227.4,221.5 261.4,240.3 295.7,240.6 329.8,228.0" fill="none" stroke="#1c1c1c" stroke-width="1.0" stroke-linejoin="round"/>
<polyline points="227.4,221.5 261.4,242.8 295.7,243.1 329.8,203.4" fill="none" stroke="#1c1c1c" stroke-width="1.0" stroke-linejoin="round"/>
<polyline points="227.4,221.5 261.4,245.3 295.7,253.9 329.8,250.8" fill="none" stroke="#1c1c1c" stroke-width="1.0" stroke-linejoin="round"/>
<polyline points="227.4,221.5 261.4,253.0 295.7,258.8 329.8,259.2" fill="none" stroke="#1c1c1c" stroke-width="1.0" stroke-linejoin="round"/>
<circle cx="227.4" cy="221.5" r="1.75" fill="#111"/>
<circle cx="261.4" cy="215.8" r="1.75" fill="#111"/>
<circle cx="295.7" cy="226.0" r="1.75" fill="#111"/>
<circle cx="329.8" cy="244.4" r="1.75" fill="#111"/>
<circle cx="261.4" cy="224.6" r="1.75" fill="#111"/>
<circle cx="329.8" cy="223.7" r="1.75" fill="#111"/>
<circle cx="261.4" cy="278.6" r="1.75" fill="#111"/>
<circle cx="295.7" cy="206.0" r="1.75" fill="#111"/>
<circle cx="329.8" cy="259.2" r="1.75" fill="#111"/>
<circle cx="261.4" cy="232.0" r="1.75" fill="#111"/>
<circle cx="295.7" cy="232.0" r="1.75" fill="#111"/>
<circle cx="329.8" cy="234.1" r="1.75" fill="#111"/>
<circle cx="261.4" cy="240.3" r="1.75" fill="#111"/>
<circle cx="295.7" cy="240.6" r="1.75" fill="#111"/>
<circle cx="329.8" cy="228.0" r="1.75" fill="#111"/>
<circle cx="261.4" cy="242.8" r="1.75" fill="#111"/>
<circle cx="295.7" cy="243.1" r="1.75" fill="#111"/>
<circle cx="329.8" cy="203.4" r="1.75" fill="#111"/>
<circle cx="261.4" cy="245.3" r="1.75" fill="#111"/>
<circle cx="295.7" cy="253.9" r="1.75" fill="#111"/>
<circle cx="329.8" cy="250.8" r="1.75" fill="#111"/>
<circle cx="261.4" cy="253.0" r="1.75" fill="#111"/>
<circle cx="295.7" cy="258.8" r="1.75" fill="#111"/>
<text x="355.9" y="171.9" font-size="11.3" font-weight="bold" fill="#111" stroke="#111" stroke-width="0.45">F</text>
<text transform="translate(364.5,247.9) rotate(-90)" font-size="10.2" text-anchor="start" fill="#3a3a3a" stroke="#3a3a3a" stroke-width="0.25" textLength="13.8" lengthAdjust="spacingAndGlyphs">CBV</text>
<line x1="389.9" y1="191.3" x2="389.9" y2="291.8" stroke="#222" stroke-width="1.25" stroke-linecap="butt"/>
<line x1="389.29999999999995" y1="291.2" x2="512.7" y2="291.2" stroke="#222" stroke-width="1.25" stroke-linecap="butt"/>
<line x1="386.4" y1="194.0" x2="389.9" y2="194.0" stroke="#222" stroke-width="1" stroke-linecap="butt"/>
<text x="383.7" y="196.9" font-size="8.2" text-anchor="end" fill="#3a3a3a" font-weight="normal" stroke="#3a3a3a" stroke-width="0.28" textLength="8.2" lengthAdjust="spacingAndGlyphs">40</text>
<line x1="386.4" y1="226.5" x2="389.9" y2="226.5" stroke="#222" stroke-width="1" stroke-linecap="butt"/>
<text x="383.7" y="229.4" font-size="8.2" text-anchor="end" fill="#3a3a3a" font-weight="normal" stroke="#3a3a3a" stroke-width="0.28" textLength="8.2" lengthAdjust="spacingAndGlyphs">20</text>
<line x1="386.4" y1="259.0" x2="389.9" y2="259.0" stroke="#222" stroke-width="1" stroke-linecap="butt"/>
<text x="383.7" y="261.9" font-size="8.2" text-anchor="end" fill="#3a3a3a" font-weight="normal" stroke="#3a3a3a" stroke-width="0.28" textLength="4" lengthAdjust="spacingAndGlyphs">0</text>
<line x1="386.4" y1="291.5" x2="389.9" y2="291.5" stroke="#222" stroke-width="1" stroke-linecap="butt"/>
<text x="383.7" y="294.4" font-size="8.2" text-anchor="end" fill="#3a3a3a" font-weight="normal" stroke="#3a3a3a" stroke-width="0.28" textLength="13.0" lengthAdjust="spacingAndGlyphs">−20</text>
<line x1="400.5" y1="291.2" x2="400.5" y2="294.2" stroke="#222" stroke-width="1" stroke-linecap="butt"/>
<text x="400.5" y="304.7" font-size="8.2" text-anchor="middle" fill="#3a3a3a" font-weight="normal" stroke="#3a3a3a" stroke-width="0.28" textLength="11.5" lengthAdjust="spacingAndGlyphs">Pre</text>
<line x1="434.6" y1="291.2" x2="434.6" y2="294.2" stroke="#222" stroke-width="1" stroke-linecap="butt"/>
<text x="434.6" y="304.7" font-size="8.2" text-anchor="middle" fill="#3a3a3a" font-weight="normal" stroke="#3a3a3a" stroke-width="0.28" textLength="9.8" lengthAdjust="spacingAndGlyphs">4w</text>
<line x1="468.8" y1="291.2" x2="468.8" y2="294.2" stroke="#222" stroke-width="1" stroke-linecap="butt"/>
<text x="468.8" y="304.7" font-size="8.2" text-anchor="middle" fill="#3a3a3a" font-weight="normal" stroke="#3a3a3a" stroke-width="0.28" textLength="9.8" lengthAdjust="spacingAndGlyphs">8w</text>
<line x1="503.2" y1="291.2" x2="503.2" y2="294.2" stroke="#222" stroke-width="1" stroke-linecap="butt"/>
<text x="503.2" y="304.7" font-size="8.2" text-anchor="middle" fill="#3a3a3a" font-weight="normal" stroke="#3a3a3a" stroke-width="0.28" textLength="14.0" lengthAdjust="spacingAndGlyphs">12w</text>
<line x1="400.5" y1="259.0" x2="512.7" y2="259.0" stroke="#444" stroke-width="1" stroke-dasharray="2.8 2.4" stroke-linecap="butt"/>
<line x1="389.9" y1="259.0" x2="400.5" y2="259.0" stroke="#1c1c1c" stroke-width="1.1" stroke-linecap="butt"/>
<rect x="426.3" y="239.0" width="17.0" height="36.80000000000001" fill="#fffafb"/>
<line x1="434.6" y1="230.2" x2="434.6" y2="276.8" stroke="#b83a56" stroke-width="1" stroke-dasharray="2.6 1.8" stroke-linecap="butt"/>
<line x1="430.3" y1="230.2" x2="438.90000000000003" y2="230.2" stroke="#b83a56" stroke-width="1" stroke-linecap="butt"/>
<line x1="430.3" y1="276.8" x2="438.90000000000003" y2="276.8" stroke="#b83a56" stroke-width="1" stroke-linecap="butt"/>
<rect x="426.3" y="239.0" width="17.0" height="36.80000000000001" fill="none" stroke="#b82c4c" stroke-width="1"/>
<line x1="426.3" y1="262.0" x2="443.3" y2="262.0" stroke="#a81d3d" stroke-width="1.7" stroke-linecap="butt"/>
<rect x="460.5" y="237.4" width="17.0" height="33.900000000000006" fill="#fffafb"/>
<line x1="468.8" y1="210.5" x2="468.8" y2="284.5" stroke="#b83a56" stroke-width="1" stroke-dasharray="2.6 1.8" stroke-linecap="butt"/>
<line x1="464.5" y1="210.5" x2="473.1" y2="210.5" stroke="#b83a56" stroke-width="1" stroke-linecap="butt"/>
<line x1="464.5" y1="284.5" x2="473.1" y2="284.5" stroke="#b83a56" stroke-width="1" stroke-linecap="butt"/>
<rect x="460.5" y="237.4" width="17.0" height="33.900000000000006" fill="none" stroke="#b82c4c" stroke-width="1"/>
<line x1="460.5" y1="250.6" x2="477.5" y2="250.6" stroke="#a81d3d" stroke-width="1.7" stroke-linecap="butt"/>
<rect x="495.0" y="244.3" width="16.30000000000001" height="21.19999999999999" fill="#fffafb"/>
<line x1="503.2" y1="242.3" x2="503.2" y2="279.8" stroke="#b83a56" stroke-width="1" stroke-dasharray="2.6 1.8" stroke-linecap="butt"/>
<line x1="498.9" y1="242.3" x2="507.5" y2="242.3" stroke="#b83a56" stroke-width="1" stroke-linecap="butt"/>
<line x1="498.9" y1="279.8" x2="507.5" y2="279.8" stroke="#b83a56" stroke-width="1" stroke-linecap="butt"/>
<rect x="495.0" y="244.3" width="16.30000000000001" height="21.19999999999999" fill="none" stroke="#b82c4c" stroke-width="1"/>
<line x1="495.0" y1="257.0" x2="511.3" y2="257.0" stroke="#a81d3d" stroke-width="1.7" stroke-linecap="butt"/>
<polyline points="400.5,259.0 434.6,234.9 468.8,210.5 503.2,208.5" fill="none" stroke="#1c1c1c" stroke-width="1.0" stroke-linejoin="round"/>
<polyline points="400.5,259.0 434.6,230.2 468.8,237.2 503.2,242.3" fill="none" stroke="#1c1c1c" stroke-width="1.0" stroke-linejoin="round"/>
<polyline points="400.5,259.0 434.6,244.6 468.8,245.9 503.2,247.4" fill="none" stroke="#1c1c1c" stroke-width="1.0" stroke-linejoin="round"/>
<polyline points="400.5,259.0 434.6,254.4 468.8,255.9 503.2,254.0" fill="none" stroke="#1c1c1c" stroke-width="1.0" stroke-linejoin="round"/>
<polyline points="400.5,259.0 434.6,268.9 468.8,270.3 503.2,258.8" fill="none" stroke="#1c1c1c" stroke-width="1.0" stroke-linejoin="round"/>
<polyline points="400.5,259.0 434.6,268.9 468.8,255.9 503.2,263.0" fill="none" stroke="#1c1c1c" stroke-width="1.0" stroke-linejoin="round"/>
<polyline points="400.5,259.0 434.6,275.7 468.8,237.2 503.2,266.6" fill="none" stroke="#1c1c1c" stroke-width="1.0" stroke-linejoin="round"/>
<polyline points="400.5,259.0 434.6,275.7 468.8,284.5 503.2,279.8" fill="none" stroke="#1c1c1c" stroke-width="1.0" stroke-linejoin="round"/>
<polyline points="400.5,259.0 434.6,275.7 468.8,271.7 503.2,263.0" fill="none" stroke="#1c1c1c" stroke-width="1.0" stroke-linejoin="round"/>
<circle cx="400.5" cy="259.0" r="1.75" fill="#111"/>
<circle cx="434.6" cy="234.9" r="1.75" fill="#111"/>
<circle cx="468.8" cy="210.5" r="1.75" fill="#111"/>
<circle cx="503.2" cy="208.5" r="1.75" fill="#111"/>
<circle cx="434.6" cy="230.2" r="1.75" fill="#111"/>
<circle cx="468.8" cy="237.2" r="1.75" fill="#111"/>
<circle cx="503.2" cy="242.3" r="1.75" fill="#111"/>
<circle cx="434.6" cy="244.6" r="1.75" fill="#111"/>
<circle cx="468.8" cy="245.9" r="1.75" fill="#111"/>
<circle cx="503.2" cy="247.4" r="1.75" fill="#111"/>
<circle cx="434.6" cy="254.4" r="1.75" fill="#111"/>
<circle cx="468.8" cy="255.9" r="1.75" fill="#111"/>
<circle cx="503.2" cy="254.0" r="1.75" fill="#111"/>
<circle cx="434.6" cy="268.9" r="1.75" fill="#111"/>
<circle cx="468.8" cy="270.3" r="1.75" fill="#111"/>
<circle cx="503.2" cy="258.8" r="1.75" fill="#111"/>
<circle cx="503.2" cy="263.0" r="1.75" fill="#111"/>
<circle cx="434.6" cy="275.7" r="1.75" fill="#111"/>
<circle cx="503.2" cy="266.6" r="1.75" fill="#111"/>
<circle cx="468.8" cy="284.5" r="1.75" fill="#111"/>
<circle cx="503.2" cy="279.8" r="1.75" fill="#111"/>
<circle cx="468.8" cy="271.7" r="1.75" fill="#111"/>
<rect x="0.5" y="0.5" width="519" height="313" fill="none" stroke="#555" stroke-width="1"/>
</svg></div>
</body></html>
